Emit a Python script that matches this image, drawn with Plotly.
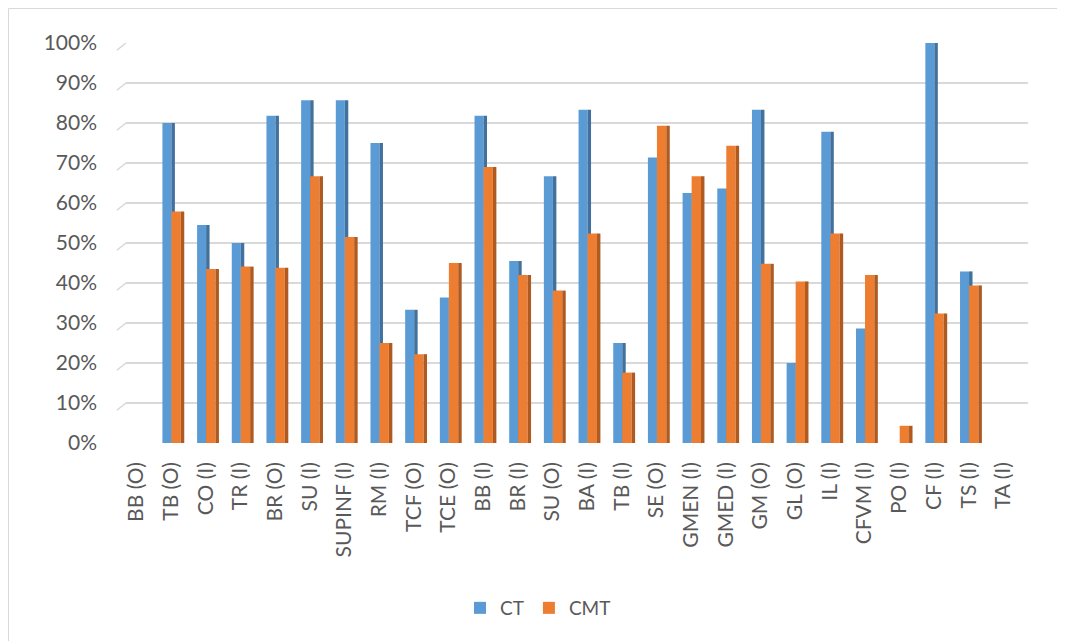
import plotly.graph_objects as go

categories = ["BB (O)", "TB (O)", "CO (I)", "TR (I)", "BR (O)", "SU (I)", "SUPINF (I)",
              "RM (I)", "TCF (O)", "TCE (O)", "BB (I)", "BR (I)", "SU (O)", "BA (I)",
              "TB (I)", "SE (O)", "GMEN (I)", "GMED (I)", "GM (O)", "GL (O)", "IL (I)",
              "CFVM (I)", "PO (I)", "CF (I)", "TS (I)", "TA (I)"]
ct = [0, 80, 54.5, 50, 81.8, 85.7, 85.7, 75, 33.3, 36.4, 81.8, 45.5, 66.7, 83.3,
      25, 71.4, 62.5, 63.6, 83.3, 20, 77.8, 28.6, 0, 100, 42.9, 0]
cmt = [0, 57.9, 43.5, 44.1, 43.8, 66.7, 51.5, 25, 22.2, 45, 69, 42, 38.1, 52.4,
       17.6, 79.3, 66.7, 74.3, 44.8, 40.4, 52.4, 42, 4.3, 32.4, 39.4, 0]
ct_f = [v / 100 for v in ct]
cmt_f = [v / 100 for v in cmt]
y_ticks = [i / 10 for i in range(11)]

BLUE, BLUE_D = "#5B9BD5", "#41719C"
ORANGE, ORANGE_D = "#ED7D31", "#AE5A21"

# the page body adds an 8px margin, so the figure is drawn 8px in from the window corner
OFF = 8
W, H = 1065 - OFF, 641 - OFF
L, R, T, B = 126 - OFF, 37, 43 - OFF, 198
pw, ph = W - L - R, H - T - B

fig = go.Figure()
fig.add_bar(x=categories, y=ct_f, name="CT", marker_color=BLUE, marker_line_width=0,
            offset=-0.25, width=0.26, legendgroup="ct")
fig.add_bar(x=categories, y=ct_f, name="CT", marker_color=BLUE_D, marker_line_width=0,
            offset=0.01, width=0.1, legendgroup="ct", showlegend=False)
fig.add_bar(x=categories, y=cmt_f, name="CMT", marker_color=ORANGE, marker_line_width=0,
            offset=0.01, width=0.27, legendgroup="cmt")
fig.add_bar(x=categories, y=cmt_f, name="CMT", marker_color=ORANGE_D, marker_line_width=0,
            offset=0.28, width=0.1, legendgroup="cmt", showlegend=False)

shapes = []
# perspective stubs at the left of each gridline
for v in y_ticks:
    shapes.append(dict(type="line", xref="paper", yref="y",
                       x0=(117 - OFF - L) / pw, x1=0, y0=v - 0.018, y1=v,
                       line=dict(color="#d9d9d9", width=1.5)))
# chart-area border
shapes.append(dict(type="rect", xref="paper", yref="paper",
                   x0=(0.5 - L) / pw, x1=(W + 20 - L) / pw,
                   y0=(H - B - (H + 20)) / ph, y1=(H - B - 0.5) / ph,
                   line=dict(color="#d9d9d9", width=1), fillcolor="rgba(0,0,0,0)",
                   layer="below"))

fig.update_layout(
    width=W, height=H,
    margin=dict(l=L, r=R, t=T, b=B),
    paper_bgcolor="white", plot_bgcolor="white",
    barmode="overlay",
    font=dict(family="Lato", color="#595959", size=21),
    showlegend=True,
    legend=dict(orientation="h", x=(538 - OFF - L) / pw, xanchor="center",
                y=(H - B - (608 - OFF)) / ph, yanchor="middle",
                font=dict(size=19, color="#595959"), traceorder="normal"),
    shapes=shapes,
    xaxis=dict(type="category", range=[-0.30, 25.71], showgrid=False, zeroline=False,
               showline=False, ticks="", tickangle=-90, ticklabelstandoff=14,
               tickfont=dict(size=21, color="#595959")),
    yaxis=dict(range=[0, 1], tickvals=y_ticks, tickformat=".0%", showgrid=True,
               gridcolor="#d9d9d9", gridwidth=1.5, zeroline=False, showline=False,
               ticks="", ticklabelstandoff=28, tickfont=dict(size=21, color="#595959")),
)

fig.write_html("out.html")
